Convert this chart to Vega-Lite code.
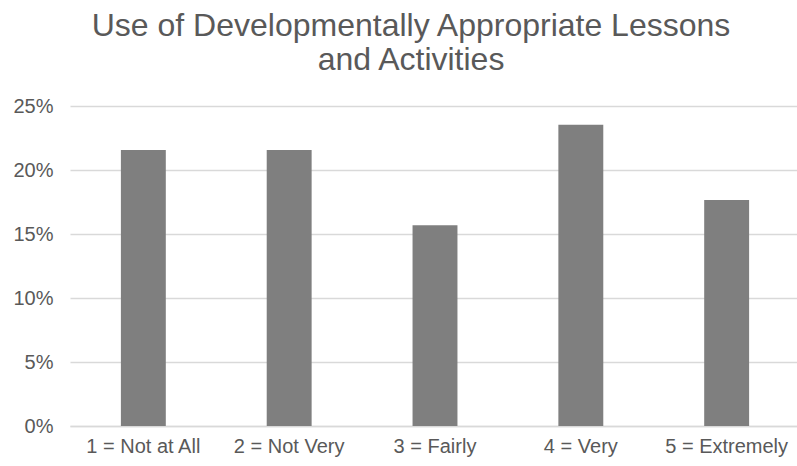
{
  "$schema": "https://vega.github.io/schema/vega-lite/v6.json",
  "width": 730,
  "height": 320,
  "autosize": {"type": "none"},
  "padding": {"left": 70, "top": 106, "right": 0, "bottom": 40},
  "background": "white",
  "title": {
    "text": ["Use of Developmentally Appropriate Lessons", "and Activities"],
    "font": "Liberation Sans",
    "fontSize": 32,
    "fontWeight": "normal",
    "color": "#595959",
    "anchor": "middle",
    "dx": -24,
    "offset": 19,
    "lineHeight": 34
  },
  "data": {
    "values": [
      {"rating": "1 = Not at All", "share": 0.2157},
      {"rating": "2 = Not Very", "share": 0.2157},
      {"rating": "3 = Fairly", "share": 0.1569},
      {"rating": "4 = Very", "share": 0.2353},
      {"rating": "5 = Extremely", "share": 0.1765}
    ]
  },
  "mark": {"type": "bar", "color": "#7f7f7f"},
  "encoding": {
    "x": {
      "field": "rating",
      "type": "nominal",
      "sort": null,
      "scale": {"paddingInner": 0.692, "paddingOuter": 0.349},
      "axis": {
        "title": null,
        "labelAngle": 0,
        "labelFont": "Liberation Sans",
        "labelFontSize": 20,
        "labelColor": "#595959",
        "labelPadding": 10,
        "ticks": false,
        "domainColor": "#d9d9d9",
        "domainWidth": 1.5
      }
    },
    "y": {
      "field": "share",
      "type": "quantitative",
      "scale": {"domain": [0, 0.25]},
      "axis": {
        "title": null,
        "format": ".0%",
        "values": [0, 0.05, 0.1, 0.15, 0.2, 0.25],
        "labelFont": "Liberation Sans",
        "labelFontSize": 20,
        "labelColor": "#595959",
        "labelPadding": 17,
        "ticks": false,
        "domain": false,
        "gridColor": "#d9d9d9",
        "gridWidth": 1.5
      }
    }
  },
  "config": {"view": {"stroke": null}}
}
